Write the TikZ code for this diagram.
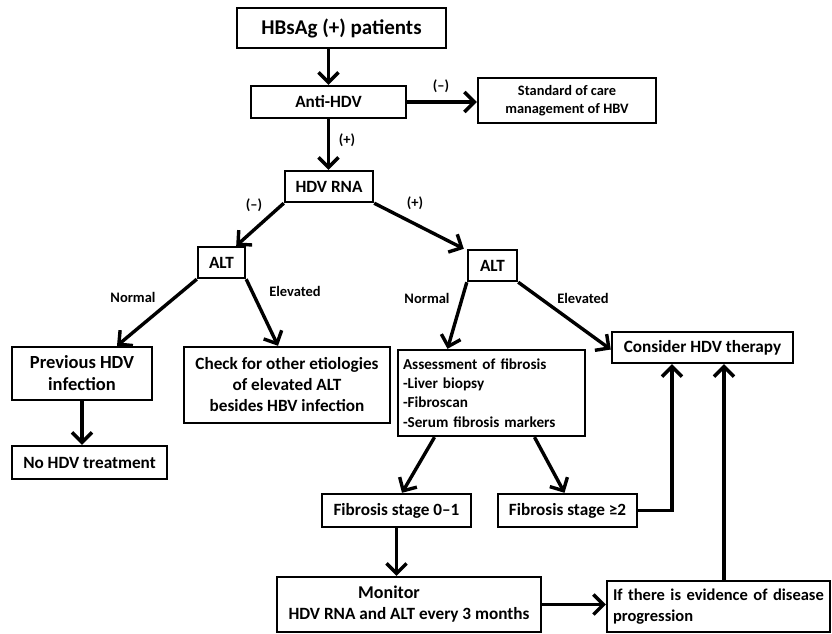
\documentclass[tikz,border=0pt]{standalone}
\usepackage{fontspec}
\setmainfont{Carlito}
\usetikzlibrary{arrows.meta}

\begin{document}
\begin{tikzpicture}
      [
        x=1pt, y=-1pt,
        box/.style={draw, line width=2.4pt, align=center, inner sep=3pt,
          font=\bfseries\fontsize{17.2}{21}\selectfont},
        small/.style={font=\bfseries\fontsize{14.4}{18}\selectfont},
        link/.style={line width=3.4pt, -{Straight Barb[length=10pt,width=20pt]}},
        tag/.style={font=\bfseries\fontsize{14.5}{16}\selectfont}
      ]
      \useasboundingbox (0,0) rectangle (832,634);
      % boxes
      \node [box, minimum width=209, minimum height=40,
        font=\bfseries\fontsize{21}{25}\selectfont] (hbsag) at (341.5,28) {HBsAg (+) patients};
      \node [box, minimum width=155, minimum height=32] (anti) at (328.5,102) {Anti-HDV};
      \node [box, small, minimum width=178, minimum height=45] (soc) at (567,100.5)
        {Standard of care\\management of HBV};
      \node [box, minimum width=88, minimum height=31] (rna) at (329,186.5) {HDV RNA};
      \node [box, minimum width=47, minimum height=31] (altl) at (221.5,262.5) {ALT};
      \node [box, minimum width=49, minimum height=31] (altr) at (492.5,265.5) {ALT};
      \node [box, minimum width=140, minimum height=53,
        font=\bfseries\fontsize{18.5}{22}\selectfont] (prev) at (82,373.5)
        {Previous HDV\\infection};
      \node [box, minimum width=206, minimum height=76] (check) at (287,385)
        {Check for other etiologies\\of elevated ALT\\besides HBV infection};
      \node [box, minimum width=155, minimum height=33] (nohdv) at (89.5,462.5) {No HDV treatment};
      \node [box, minimum width=187, minimum height=86, align=left, text width=177,
        font=\bfseries\fontsize{15.2}{19.3}\selectfont] (assess) at (491.5,393)
        {Assessment of fibrosis\\-Liver biopsy\\-Fibroscan\\-Serum fibrosis markers};
      \node [box, minimum width=181, minimum height=31] (consider) at (702.5,347.5)
        {Consider HDV therapy};
      \node [box, minimum width=149, minimum height=33] (fib01) at (396.5,510.5)
        {Fibrosis stage 0–1};
      \node [box, minimum width=139, minimum height=33] (fib2) at (567.5,510.5)
        {Fibrosis stage ≥2};
      \node [box, minimum width=264, minimum height=55] (monitor) at (409,604.5)
        {{\fontsize{18}{21}\selectfont Monitor}\hspace*{40pt}\\HDV RNA and ALT every 3 months};
      \node [box, minimum width=223, minimum height=51, align=left, text width=211,
        font=\bfseries\fontsize{16.5}{21}\selectfont] (ifbox) at (718.5,606.5)
        {If there is evidence of disease\\progression};
      % labels
      \node [tag] (neg1) at (441,86) {(–)};
      \node [tag] (pos1) at (347,140) {(+)};
      \node [tag] (neg2) at (254,205) {(–)};
      \node [tag] (pos2) at (415,203) {(+)};
      \node [tag] (norml) at (133,297) {Normal};
      \node [tag] (elevl) at (295,291) {Elevated};
      \node [tag] (normr) at (427,298) {Normal};
      \node [tag] (elevr) at (583,298) {Elevated};
      % arrows
      \draw [link] (anti.north |- hbsag.south) -- (anti.north);
      \draw [link] (anti.east) -- (anti.east -| soc.west);
      \draw [link] (anti.south) -- (anti.south |- rna.north);
      \draw [link] (rna.south west) -- ([xshift=-10]altl.north east);
      \draw [link] (rna.south east) -- ([xshift=-3]altr.north west);
      \draw [link] (altl.south west) -- ([xshift=35]prev.north);
      \draw [link] (altl.south east) -- ([xshift=-9]check.north);
      \draw [link] (prev.south) -- (prev.south |- nohdv.north);
      \draw [link] (altr.south west) -- ([xshift=-44]assess.north);
      \draw [link] (altr.south east) -- ([yshift=-2]consider.west);
      \draw [link] ([xshift=-57]assess.south) -- ([xshift=5.5]fib01.north);
      \draw [link] ([xshift=43]assess.south) -- ([xshift=-3]fib2.north);
      \draw [link] (fib01.south) -- (fib01.south |- monitor.north);
      \draw [link] (fib2.east) -| ([xshift=-30.5]consider.south);
      \draw [link] (monitor.east) -- (monitor.east -| ifbox.west);
      \draw [link] ([xshift=21.5]consider.south |- ifbox.north) -- ([xshift=21.5]consider.south);
    \end{tikzpicture}
\end{document}
